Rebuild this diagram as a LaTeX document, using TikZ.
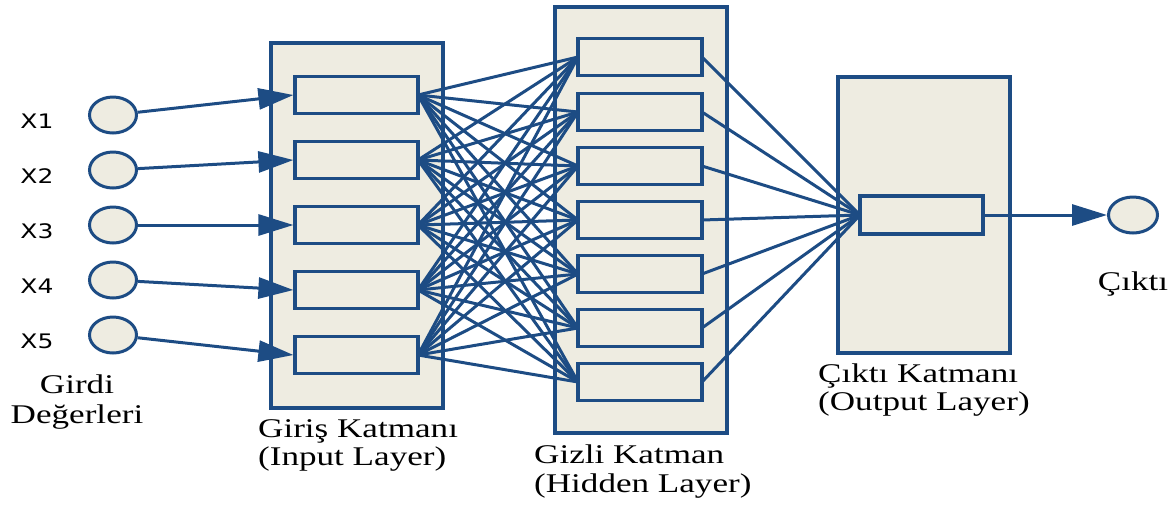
\documentclass[tikz,border=0pt]{standalone}
\usepackage{fontspec}
\setmainfont{Liberation Serif}[FakeStretch=1.3]
\newfontfamily\inputfont{DejaVu Sans}[FakeStretch=1.25]
\usetikzlibrary{arrows.meta,shapes.geometric}

\definecolor{netblue}{HTML}{1D4C84}
\definecolor{netfill}{HTML}{EEECE1}

\tikzset{
  layerbox/.style={draw=netblue, fill=netfill, line width=3.2pt, rectangle,
    inner sep=0pt, minimum width=172pt},
  unitbox/.style={draw=netblue, fill=netfill, line width=3.2pt, rectangle,
    inner sep=0pt, minimum width=123pt, minimum height=37pt},
  valnode/.style={draw=netblue, fill=netfill, line width=3pt, ellipse,
    inner sep=0pt, minimum width=47pt, minimum height=36pt},
  link/.style={draw=netblue, line width=3pt},
  feed/.style={link, -{Triangle[length=35pt, width=21pt]}},
  caption/.style={font=\fontsize{27}{28}\selectfont, align=left,
    inner sep=0pt, text=black},
  varlabel/.style={font=\inputfont\fontsize{20}{20}\selectfont,
    inner sep=0pt, text=black}
}

\begin{document}
\begin{tikzpicture}[x=1pt, y=-1pt]
  \useasboundingbox (0,0) rectangle (1175,507);

  % layer frames
  \node[layerbox, minimum height=365pt] (inL) at (357,225.5) {};
  \node[layerbox, minimum height=426pt] (hidL) at (641,220) {};
  \node[layerbox, minimum height=276pt] (outL) at (924,215) {};

  % input values
  \foreach \i/\y in {1/115,2/170,3/225,4/280,5/335} {
    \node[valnode] (x\i) at (113,\y) {};
    \node[varlabel] (lx\i) at (37,\y+6) {X\i};
  }

  % input layer units
  \foreach \i/\y in {1/95,2/160,3/225,4/290,5/355}
    \coordinate (ic\i) at (356.5,\y);

  % hidden layer units
  \foreach \j/\y in {1/57,2/112,3/166,4/220,5/274,6/328,7/382}
    \coordinate (hc\j) at (640,\y);

  % output unit position
  \coordinate (oc) at (921.5,215);

  % connections input -> hidden
  \foreach \i in {1,...,5}
    \foreach \j in {1,...,7}
      \draw[link] ([xshift=61.5pt]ic\i) -- ([xshift=-62pt]hc\j);

  % connections hidden -> output
  \foreach \j in {1,...,7}
    \draw[link] ([xshift=62pt]hc\j) -- ([xshift=-61.5pt]oc);

  % unit boxes
  \foreach \i in {1,...,5}
    \node[unitbox] (in\i) at (ic\i) {};
  \foreach \j in {1,...,7}
    \node[unitbox, minimum width=124pt] (hid\j) at (hc\j) {};
  \node[unitbox, minimum height=38pt] (out) at (oc) {};

  % feeding arrows
  \foreach \i in {1,...,5}
    \draw[feed] (x\i) -- (in\i.west);

  % result
  \node[valnode, minimum width=49pt] (y) at (1133,215) {};
  \draw[feed] (out.east) -- (y.west);

  % captions (anchored on the baseline of their last line)
  \node[caption, anchor=base, align=center] (capIn) at (77,423)
    {Girdi\\[2pt]Değerleri};
  \node[caption, anchor=base west] (capInL) at (258,465)
    {Giriş Katmanı\\(Input Layer)};
  \node[caption, anchor=base west] (capHid) at (534,492)
    {Gizli Katman\\[1pt](Hidden Layer)};
  \node[caption, anchor=base west] (capOut) at (818,410)
    {Çıktı Katmanı\\(Output Layer)};
  \node[caption, anchor=base] (capY) at (1133,290) {Çıktı};
\end{tikzpicture}
\end{document}
